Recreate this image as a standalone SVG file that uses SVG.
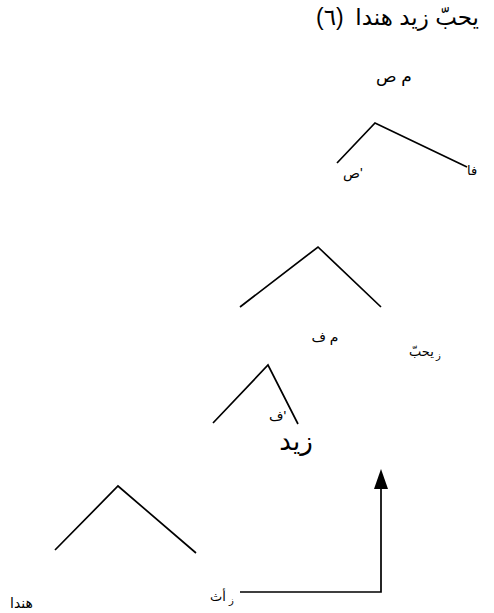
<svg xmlns="http://www.w3.org/2000/svg" width="494" height="613" viewBox="0 0 494 613">
<style>
text{font-family:"Liberation Sans","DejaVu Sans",sans-serif;fill:#000}
.t{font-size:23px}
.l{font-size:17px}
.s{font-size:14px}
.xs{font-size:13px}
.hd{font-size:14px}
.sub{font-size:10px}
.big{font-size:26px}
.e{stroke:#000;stroke-width:1.7;fill:none}
</style>
<rect width="494" height="613" fill="#fff"/>
<text class="t" x="316" y="25" font-size="20">(٦)</text>
<text class="t" x="479" y="25" text-anchor="end">يحبّ زيد هندا</text>
<g id="edges">
<path class="e" d="M337,163 L375,123 L467,167"/>
<path class="e" d="M240,307 L318,247 L381,307"/>
<path class="e" d="M213,423 L268,365 L298,424"/>
<path class="e" d="M55,550 L118,486 L196,553"/>
<path class="e" d="M240,592 L381,592 L381,488"/>
<path d="M374,489 L388,489 L381,469 z" fill="#000"/>
</g>
<g id="n-mS"><text class="l" x="394" y="82" text-anchor="middle">م ص</text></g>
<g id="n-Sbar"><text class="s" x="343" y="178">ص'</text></g>
<g id="n-fa"><text class="xs" x="467" y="175">فا</text></g>
<g id="n-mF"><text class="s" x="325" y="342" text-anchor="middle">م ف</text></g>
<g id="n-yuhibbu"><text class="xs" x="409" y="356">يحبّ</text><text class="sub" x="436" y="359">ز</text></g>
<g id="n-Fbar"><text class="s" x="269" y="421">ف'</text></g>
<g id="n-zayd"><text class="big" x="296" y="450" text-anchor="middle">زيد</text></g>
<g id="n-hind"><text class="hd" x="10" y="608">هندا</text></g>
<g id="n-trace"><text class="xs" x="210" y="601">أث</text><text class="sub" x="229" y="604">ز</text></g>
</svg>
